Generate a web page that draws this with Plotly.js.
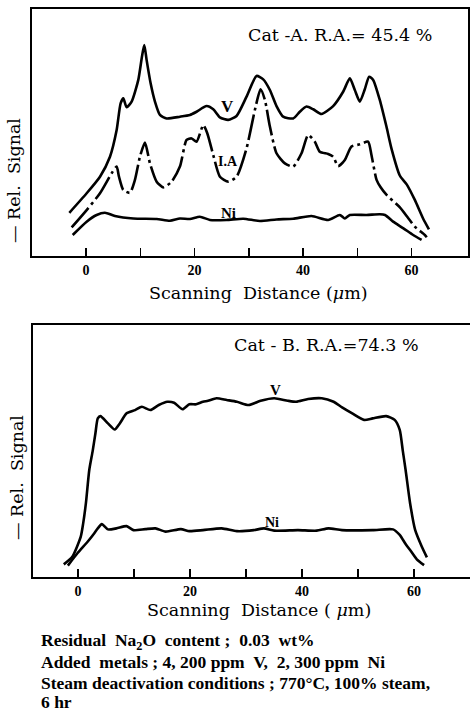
<!DOCTYPE html>
<html><head><meta charset="utf-8">
<script src="https://cdn.plot.ly/plotly-3.0.1.min.js"></script>
<style>html,body{margin:0;padding:0;background:#fff;}#chart{width:470px;height:714px;}</style>
</head><body><div id="chart"></div>
<script>
// ---- Cat-A (top panel) ----
const catA_V_x = [-3.07,0.12,2.58,4.42,5.65,6.38,6.88,7.49,8.41,9.64,10.31,10.74,11.17,11.91,12.71,13.63,14.86,17.31,19.15,20.38,22.22,23.45,24.68,26.21,27.75,29.59,31.43,32.66,33.89,35.11,36.34,38.18,39.41,40.64,41.87,43.40,45.55,47.39,48.62,49.54,50.46,51.38,52.18,52.92,54.14,55.37,56.3,57.83,59.1,60.6,62.1,63.2];
const catA_V_y = [17.5,25.4,32.1,40.2,51.0,61.8,63.8,60.2,62.5,71.3,80.7,85.4,79.4,69.9,62.5,57.1,55.7,56.4,57.1,58.4,60.7,59.4,56.1,55.1,56.7,64.5,72.9,71.5,67.2,60.7,56.4,55.7,58.4,60.5,59.4,57.5,60.7,66.5,71.9,67.2,62.5,67.5,72.6,71.3,63.2,52.4,43.5,32.6,29.0,22.7,15.3,10.8];
const catA_IA_x = [-2.64,0.12,2.58,4.73,5.65,6.08,6.88,8.10,9.02,9.94,10.87,11.79,13.02,14.24,15.78,17.31,18.54,19.46,20.38,21.61,22.35,23.45,24.68,26.21,27.75,29.59,31.12,32.17,32.97,33.89,35.11,36.65,38.18,39.72,40.94,42.17,43.09,44.63,45.55,46.47,47.70,48.93,50.46,51.99,52.6,53.55,54.3,55.4,57.85,59.4,60.6,62.45,62.8];
const catA_IA_y = [11.6,18.6,25.4,33.5,36.2,32.1,26.7,25.6,30.8,40.2,45.9,37.5,30.1,27.8,30.1,36.2,47.0,47.6,46.3,53.0,49.7,40.9,32.1,30.1,32.1,43.6,59.1,67.5,63.2,52.4,41.6,37.5,36.2,41.6,49.0,46.3,42.2,41.3,40.2,36.4,38.9,44.3,45.2,46.3,41.0,30.8,27.8,24.7,19.7,15.3,11.9,8.5,7.6];
const catA_Ni_x = [-2.45,0.12,1.96,3.50,5.34,8.72,13.02,15.47,17.31,19.15,20.99,22.84,25.91,28.98,32.04,35.11,38.18,41.56,44.63,46.78,47.70,48.62,51.69,54.14,55.1,56.6,58.5,60.3,61.85];
const catA_Ni_y = [8.5,13.9,16.6,17.5,16.2,15.2,15.0,14.3,15.2,15.0,15.9,14.6,14.6,15.1,14.2,14.8,15.1,16.2,14.6,16.6,15.2,16.6,16.6,16.9,16.6,13.9,11.2,8.5,6.5];

// ---- Cat-B (bottom panel) ----
const catB_V_x = [-2.55,-1.03,0.48,0.9,1.4,2.0,2.61,3.1,3.52,4.0,5.33,6.55,7.45,8.67,10.18,11.39,12.91,14.42,15.94,17.15,18.67,19.88,21.09,22.30,23.21,24.73,26.55,28.36,30.48,32.61,35.03,37.45,38.97,41.09,43.52,45.64,47.15,48.97,51.09,52.61,55.03,56.55,57.45,58.0,58.5,59.3,60.2,61.4,62.3];
const catB_V_y = [4.9,7.9,15.9,21.0,29.2,42.4,50.0,57.0,62.9,63.8,60.9,58.5,60.9,64.9,66.2,67.5,66.2,68.2,69.5,69.1,66.5,68.5,68.5,69.5,69.9,70.9,70.2,69.5,68.2,69.9,70.9,69.9,69.5,70.6,70.9,69.5,67.3,64.9,62.3,62.9,63.8,62.3,58.3,50.0,42.4,29.2,18.6,11.9,7.7];
const catB_Ni_x = [-1.82,-0.12,1.7,2.8,3.52,4.24,5.33,6.85,8.67,9.88,12.0,13.82,15.64,18.36,19.88,22.30,25.64,28.36,31.39,33.21,35.03,39.27,42.61,44.73,47.15,52.61,56.25,57.45,58.5,59.3,60.5,61.8];
const catB_Ni_y = [4.4,9.3,13.9,17.0,19.2,20.9,18.8,19.2,20.1,18.5,18.9,19.2,17.9,18.9,18.1,18.5,19.2,18.1,18.5,19.2,18.3,18.5,18.3,19.2,18.5,18.5,18.8,16.6,13.0,10.6,6.9,4.6];

const majorTicks = [0,20,40,60];
const majorText = ['0','20','40','60'];
const minorTicks = [10,30,50];

const W = 470, H = 714;
const px = v => v / W;
const py = v => 1 - v / H;

const lineBase = {color:'#000', width:2.6, shape:'spline', smoothing:0.6};
function tr(x, y, xa, ya, extra) {
  return {x:x, y:y, xaxis:xa, yaxis:ya, mode:'lines', hoverinfo:'skip',
    line:Object.assign({}, lineBase, extra||{})};
}
const data = [
  tr(catA_V_x, catA_V_y, 'x', 'y'),
  tr(catA_IA_x, catA_IA_y, 'x', 'y', {dash:'26px,4px,3px,4px'}),
  tr(catA_Ni_x, catA_Ni_y, 'x', 'y'),
  tr(catB_V_x, catB_V_y, 'x2', 'y2'),
  tr(catB_Ni_x, catB_Ni_y, 'x2', 'y2')
];

const serif = 'Liberation Serif, Times New Roman, serif';
const wide = 'DejaVu Serif, serif';
const xaxisBase = {
  tickmode:'array', tickvals:majorTicks, ticktext:majorText,
  ticks:'inside', ticklen:8, tickwidth:1.5, tickcolor:'#000',
  minor:{tickmode:'array', tickvals:minorTicks, ticks:'inside', ticklen:8, tickwidth:1.5, tickcolor:'#000', showgrid:false},
  showline:true, linecolor:'#000', linewidth:2, showgrid:false, zeroline:false,
  tickfont:{family:serif, size:14, color:'#000', weight:'bold'}, fixedrange:true
};
const yaxisBase = {range:[0,100], showticklabels:false, ticks:'', showgrid:false, zeroline:false,
  showline:true, linecolor:'#000', linewidth:2, fixedrange:true};

function note(x, y, text, font, extra) {
  return Object.assign({xref:'paper', yref:'paper', x:px(x), y:py(y), text:text, showarrow:false,
    xanchor:'center', yanchor:'middle', font:font}, extra||{});
}
function lab(xr, yr, x, y, text, size) {
  return {xref:xr, yref:yr, x:x, y:y, text:text, showarrow:false, xanchor:'center', yanchor:'middle',
    font:{family:serif, size:size, color:'#000', weight:'bold'}};
}
const titleFont = {family:wide, size:17.5, color:'#000'};
const axFont = {family:wide, size:17.5, color:'#000'};
const noteFont = {family:serif, size:17.5, color:'#000', weight:'bold'};

const layout = {
  width:W, height:H, margin:{l:0,r:0,t:0,b:0},
  paper_bgcolor:'#fff', plot_bgcolor:'#fff', showlegend:false,
  xaxis:Object.assign({}, xaxisBase, {domain:[px(32), px(468)], range:[-9.95,70.4], anchor:'y', mirror:true}),
  yaxis:Object.assign({}, yaxisBase, {domain:[py(256), py(9)], anchor:'x', mirror:true}),
  xaxis2:Object.assign({}, xaxisBase, {domain:[px(33), 1], range:[-8.05,70.0], anchor:'y2', mirror:true}),
  yaxis2:Object.assign({}, yaxisBase, {domain:[py(576.7), py(325)], anchor:'x2', mirror:false}),
  annotations:[
    note(340, 35, 'Cat -A. R.A.= 45.4 %', titleFont),
    note(326, 345, 'Cat - B. R.A.=74.3 %', titleFont),
    note(258, 293, 'Scanning  Distance (<i>μ</i>m)', axFont),
    note(259, 610, 'Scanning  Distance ( <i>μ</i>m)', axFont),
    note(14, 181, '— Rel.  Signal', axFont, {textangle:-90}),
    note(17, 478, '— Rel.  Signal', axFont, {textangle:-90}),
    lab('x', 'y', 26.0, 60.7, 'V', 17),
    lab('x', 'y', 26.2, 38.1, 'I.A', 14),
    lab('x', 'y', 26.2, 17.4, 'Ni', 15),
    lab('x2', 'y2', 35.3, 74.2, 'V', 15),
    lab('x2', 'y2', 34.7, 21.7, 'Ni', 14),
    note(39, 641.7, 'Residual  Na<sub>2</sub>O  content ;  0.03  wt%', noteFont, {xanchor:'left'}),
    note(39, 661.7, 'Added  metals ; 4, 200 ppm  V,  2, 300 ppm  Ni', noteFont, {xanchor:'left'}),
    note(39, 682.7, 'Steam deactivation conditions ; 770°C, 100% steam,', noteFont, {xanchor:'left'}),
    note(39, 702, '6 hr', noteFont, {xanchor:'left'})
  ]
};
Plotly.newPlot('chart', data, layout, {displayModeBar:false, staticPlot:true});
</script></body></html>
